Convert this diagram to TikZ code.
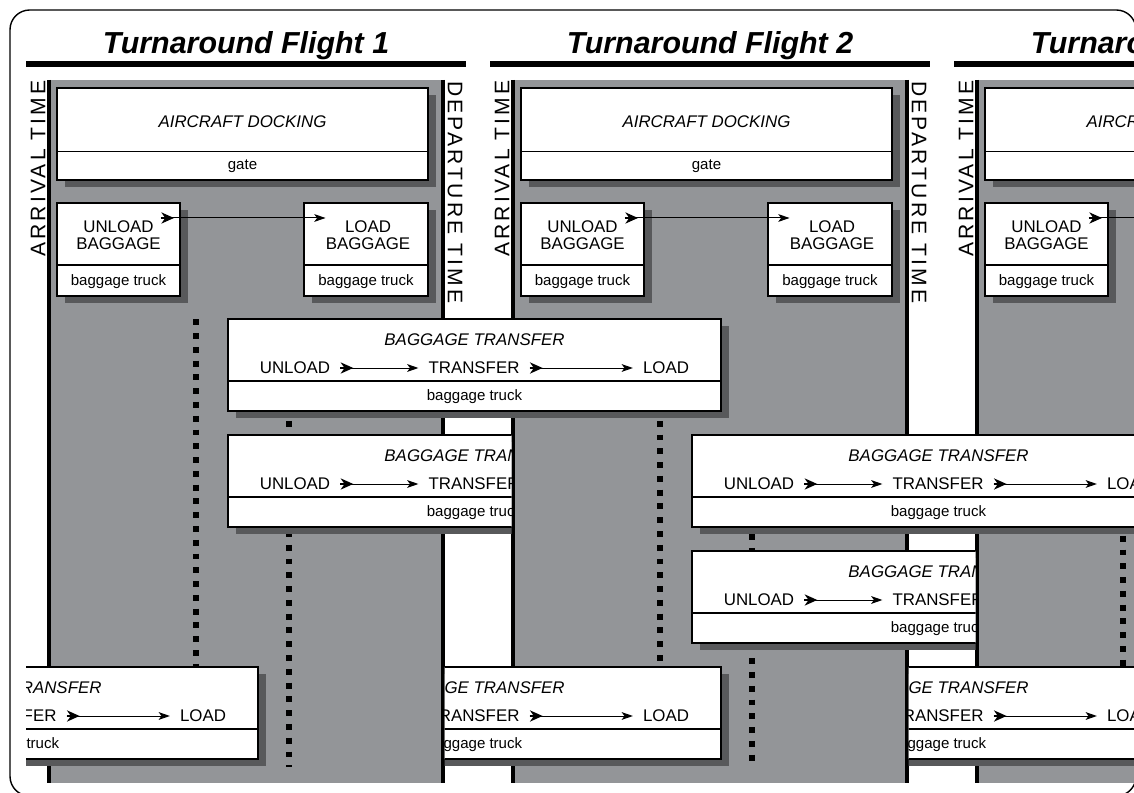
\documentclass[tikz,border=0pt]{standalone}
\usepackage{fontspec}
\setmainfont{Liberation Sans}
\usepackage{tikz}
\usetikzlibrary{arrows.meta}

\definecolor{bandgray}{RGB}{147,149,152}
\definecolor{shadegray}{RGB}{88,89,91}

% box with drop shadow and a divider line
\newcommand{\opbox}[5]{%
  \fill[shadegray] ({#1+7.5},{#2+7.5}) rectangle ({#3+7.5},{#4+7.5});
  \draw[boxline, fill=white] (#1,#2) rectangle (#3,#4);
  \draw[boxline] (#1,#5) -- (#3,#5);
}

% name, left, top
\newcommand{\transferbox}[3]{%
  \begin{scope}[shift={(#2,#3)}]
    \opbox{0}{0}{493}{92}{62}
    \node[boxtitle] (#1title) at (246.5,21) {BAGGAGE TRANSFER};
    \node[steptext] (#1unload) at (67,49) {UNLOAD};
    \node[steptext] (#1transfer) at (246,49) {TRANSFER};
    \node[steptext] (#1load) at (438,49) {LOAD};
    \node[smalltext] (#1truck) at (246.5,78) {baggage truck};
    \draw[flow] (#1unload) -- (#1transfer);
    \draw[tail] (#1unload.east) -- ++(13,0);
    \draw[flow] (#1transfer) -- (#1load);
    \draw[tail] (#1transfer.east) -- ++(13,0);
  \end{scope}}

\begin{document}
\begin{tikzpicture}[x=0.025cm, y=-0.025cm,
  boxline/.style={line width=1.4pt},
  bigtext/.style={font=\fontsize{12pt}{12pt}\selectfont, inner sep=0pt},
  boxtitle/.style={font=\fontsize{12pt}{12pt}\selectfont\itshape, inner sep=0pt},
  smalltext/.style={font=\fontsize{10.7pt}{12pt}\selectfont, inner sep=0pt},
  steptext/.style={bigtext, inner xsep=7pt},
  flow/.style={line width=0.7pt, -{Stealth[length=8pt,width=5.5pt,inset=2pt]}},
  tail/.style={line width=0.9pt, -{Stealth[length=9pt,width=8pt,inset=2.8pt]}},
  flighttitle/.style={font=\fontsize{21.6pt}{24pt}\selectfont\bfseries\itshape, inner sep=0pt},
  timelabel/.style={font=\fontsize{15pt}{15pt}\selectfont\addfontfeature{LetterSpace=15}, inner sep=0pt},
  dots/.style={line width=4.2pt, dash pattern=on 4.2pt off 5.6pt}]

\useasboundingbox (0,0) rectangle (1134,793);
\fill[white] (0,0) rectangle (1134,793);
\clip (0,0) rectangle (1134,793);

\draw[line width=1pt, rounded corners=14pt] (10,10) rectangle (1136,796);

% one column per flight
\foreach \k in {1,2,3} {
  \begin{scope}[shift={({(\k-1)*464},0)}]
    \node[flighttitle] (title\k) at (246,45.5) {Turnaround Flight \k};
    \draw[line width=4.3pt] (26,64) -- (466,64);
    \fill[bandgray] (49,80) rectangle (443,783);
    \draw[line width=2.2pt] (49,80) -- (49,783) (443,80) -- (443,783);
    \node[timelabel, rotate=90, anchor=east] (arrival\k) at (38,80) {ARRIVAL TIME};
    \node[timelabel, rotate=-90, anchor=west] (departure\k) at (455,81) {DEPARTURE TIME};

    \opbox{57}{88}{428}{180}{151.5}
    \node[boxtitle] (docking\k) at (242.5,121.7) {AIRCRAFT DOCKING};
    \node[smalltext] (gate\k) at (242.5,166) {gate};

    \opbox{57}{203}{180}{296}{265}
    \opbox{304}{203}{428}{296}{265}
    \node[bigtext, align=center, inner ysep=2pt] (unload\k) at (118.5,235.5) {UNLOAD\\BAGGAGE};
    \node[bigtext, align=center, inner ysep=2pt] (load\k) at (368,235.5) {LOAD\\BAGGAGE};
    \node[smalltext] (utruck\k) at (118.5,281.5) {baggage truck};
    \node[smalltext] (ltruck\k) at (366,281.5) {baggage truck};
    \draw[flow] (unload\k.north east) -- (load\k.north west);
    \draw[tail] (unload\k.north east) -- ++(13,0);
  \end{scope}
}

\draw[dots] (196,319.3) -- (196,667);
\draw[dots] (289,407) -- (289,767);
\draw[dots] (660,407) -- (660,667);
\draw[dots] (752,520.4) -- (752,761);
\draw[dots] (1123,522) -- (1123,667);

% transfers hidden behind the earlier flight
\begin{scope}
  \clip (444.5,0) rectangle (1134,793);
  \transferbox{f}{228}{667}
\end{scope}
\begin{scope}
  \clip (908.5,0) rectangle (1134,793);
  \transferbox{g}{692}{667}
\end{scope}

% transfers on top
\transferbox{a}{228}{319}
\transferbox{c}{692}{435}
\begin{scope}
  \clip (26,0) rectangle (1134,793);
  \transferbox{e}{-235}{667}
\end{scope}

% transfers hidden behind the later flight
\begin{scope}
  \clip (0,0) rectangle (511.5,793);
  \transferbox{b}{228}{435}
\end{scope}
\begin{scope}
  \clip (0,0) rectangle (975.5,793);
  \transferbox{d}{692}{551}
\end{scope}

\end{tikzpicture}
\end{document}
